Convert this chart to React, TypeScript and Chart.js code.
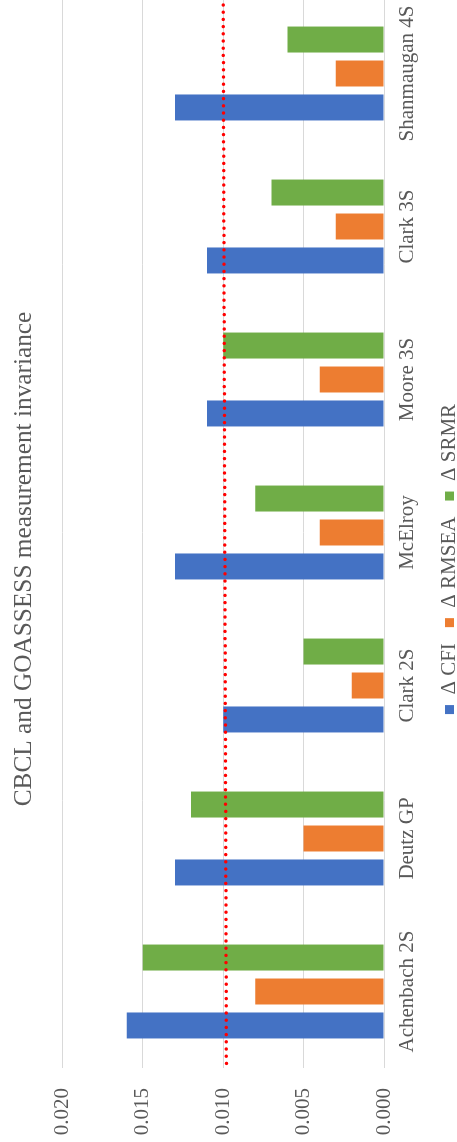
import React, { useEffect, useRef } from "react";
import { Chart, registerables } from "chart.js";

Chart.register(...registerables);

const categories = ["Achenbach 2S", "Deutz GP", "Clark 2S", "McElroy", "Moore 3S", "Clark 3S", "Shanmaugan 4S"];
const seriesNames = ["\u0394 CFI", "\u0394 RMSEA", "\u0394 SRMR"];
const cfi = [0.016, 0.013, 0.010, 0.013, 0.011, 0.011, 0.013];
const rmsea = [0.008, 0.005, 0.002, 0.004, 0.004, 0.003, 0.003];
const srmr = [0.015, 0.012, 0.005, 0.008, 0.010, 0.007, 0.006];
// threshold line: category-axis positions (fractional index) and values at its two ends
const thresholdX = [-0.47, 6.5];
const thresholdY = [0.0098, 0.0100];
const yTicks = [0, 0.005, 0.01, 0.015, 0.02];
const titleText = "CBCL and GOASSESS measurement invariance";

const FONT = "'Liberation Serif', 'Times New Roman', serif";
const TEXT = "#595959";
const CW = 1168;
const CH = 470;

const noLabelClip = {
  id: "noLabelClip",
  beforeDraw(chart: any) {
    Object.values(chart.scales).forEach((s: any) => {
      s._computeLabelArea = () => undefined;
    });
  },
};

const thresholdPlugin = {
  id: "thresholdLine",
  afterDatasetsDraw(chart: any) {
    const { ctx, chartArea, scales } = chart;
    const xs = scales.x;
    const ys = scales.y;
    ctx.save();
    ctx.beginPath();
    ctx.rect(chartArea.left, chartArea.top, chartArea.right - chartArea.left, chartArea.bottom - chartArea.top);
    ctx.clip();
    ctx.beginPath();
    ctx.strokeStyle = "#FF0000";
    ctx.lineWidth = 3.5;
    ctx.lineCap = "round";
    ctx.setLineDash([0, 7.2]);
    ctx.moveTo(xs.getPixelForValue(thresholdX[0]), ys.getPixelForValue(thresholdY[0]));
    ctx.lineTo(xs.getPixelForValue(thresholdX[1]), ys.getPixelForValue(thresholdY[1]));
    ctx.stroke();
    ctx.restore();
  },
};

export default function App() {
  const ref = useRef<HTMLCanvasElement | null>(null);
  useEffect(() => {
    if (!ref.current) return;
    const chart = new Chart(ref.current, {
      type: "bar",
      data: {
        labels: categories,
        datasets: [
          { label: seriesNames[0], data: cfi, backgroundColor: "#4472C4" },
          { label: seriesNames[1], data: rmsea, backgroundColor: "#ED7D31" },
          { label: seriesNames[2], data: srmr, backgroundColor: "#70AD47" },
        ],
      },
      options: {
        animation: false,
        responsive: false,
        devicePixelRatio: 1,
        layout: { padding: { left: 21, right: 23, top: 0, bottom: 0 } },
        categoryPercentage: 0.666,
        barPercentage: 0.765,
        plugins: {
          tooltip: { enabled: false },
          title: {
            display: true,
            text: titleText,
            color: TEXT,
            font: { family: FONT, size: 25.3, weight: "normal" },
            padding: { top: 9, bottom: 23 },
          },
          legend: {
            display: true,
            position: "bottom",
            labels: {
              color: TEXT,
              font: { family: FONT, size: 21 },
              boxWidth: 9,
              boxHeight: 9,
              padding: 16,
            },
          },
        },
        scales: {
          x: {
            type: "category",
            afterFit: (s: any) => { s.height = 39; },
            grid: { display: false, drawTicks: false },
            border: { display: false },
            ticks: { color: TEXT, font: { family: FONT, size: 21 }, padding: 11, maxRotation: 0, autoSkip: false },
          },
          y: {
            min: 0,
            max: 0.02,
            afterFit: (s: any) => { s.width = 53; },
            afterBuildTicks: (s: any) => { s.ticks = yTicks.map((v) => ({ value: v })); },
            grid: { color: "#D9D9D9", lineWidth: 1, drawTicks: false },
            border: { display: false },
            ticks: {
              color: TEXT,
              font: { family: FONT, size: 21 },
              padding: 20,
              callback: (v: any) => Number(v).toFixed(3),
            },
          },
        },
      } as any,
      plugins: [noLabelClip, thresholdPlugin],
    });
    return () => chart.destroy();
  }, []);

  return (
    <div style={{ position: "fixed", left: 0, top: 0, width: 457, height: 1142, overflow: "hidden", background: "#fff" }}>
      <div
        style={{
          position: "absolute",
          left: 0,
          top: 0,
          width: CW,
          height: CH,
          transformOrigin: "0 0",
          transform: "translate(0px, 1142px) rotate(-90deg)",
        }}
      >
        <canvas ref={ref} width={CW} height={CH} style={{ width: CW, height: CH, display: "block" }} />
      </div>
    </div>
  );
}
